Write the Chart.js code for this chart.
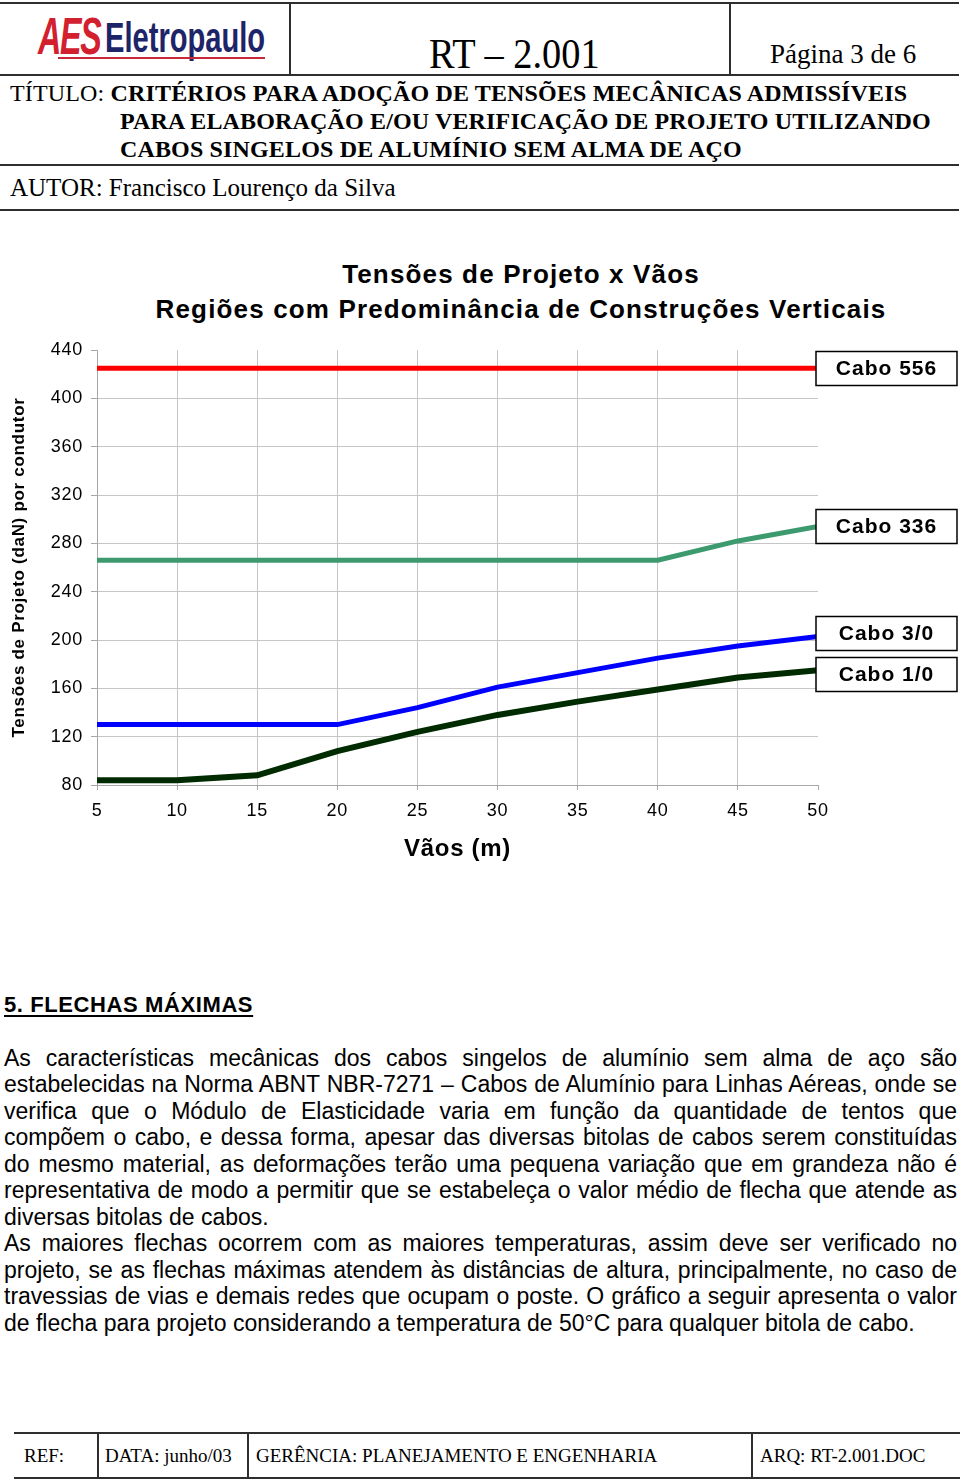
<!DOCTYPE html>
<html lang="pt-BR">
<head>
<meta charset="utf-8">
<title>RT – 2.001 – Tensões de Projeto x Vãos</title>
<script src="https://cdn.jsdelivr.net/npm/chart.js@4.4.1/dist/chart.umd.min.js"></script>
<style>
    html, body { margin: 0; padding: 0; background: #fff; }
    body { position: relative; width: 960px; height: 1481px; overflow: hidden; color: #000;
           font-family: "Liberation Serif", "Times New Roman", serif; }
    .linha { position: absolute; background: #2e2e2e; }
    .txt { position: absolute; white-space: nowrap; }
    .logoAes { left: 38px; top: 10px; font: italic bold 52px/52px "Liberation Sans", Arial, sans-serif;
               color: #d3202f; transform: scaleX(0.62); transform-origin: left top; letter-spacing: -2px; }
    .logoNome { left: 105px; top: 15.6px; font: bold 43px/43px "Liberation Sans", Arial, sans-serif;
                color: #1e2468; transform: scaleX(0.677); transform-origin: left top; }
    .logoSub { position: absolute; left: 58px; top: 57px; width: 207px; height: 2px; background: #c8283a; }
    .rt { left: 429px; top: 32.5px; font-size: 42px; line-height: 42px; transform: scaleX(0.913); transform-origin: left top; }
    .pagina { left: 770px; top: 41.4px; font-size: 27px; line-height: 27px; }
    .titulo { left: 10px; top: 78.9px; font-size: 24px; line-height: 28px; letter-spacing: 0.15px; }
    .titulo b { font-weight: bold; }
    .autor { left: 10px; top: 175.4px; font-size: 25px; line-height: 25px; }
    .tituloGrafico { left: 521px; top: 256.5px; transform: translateX(-50%); text-align: center;
                     font: bold 26px/35px "Liberation Sans", Arial, sans-serif; letter-spacing: 1.15px; }
    #caixaGrafico { position: absolute; left: 0; top: 330px; width: 960px; height: 540px; }
    .secao { left: 4px; top: 993.7px; font: bold 22px/22px "Liberation Sans", Arial, sans-serif; letter-spacing: 0.6px;
             text-decoration: underline; text-decoration-thickness: 2px; text-underline-offset: 3px; }
    #texto { position: absolute; left: 4px; top: 1044.8px; width: 953px;
             font: 23px/26.5px "Liberation Sans", Arial, sans-serif; }
    #texto div { white-space: nowrap; }
    #texto .just { text-align: justify; text-align-last: justify; }
    .rodape { top: 1446.4px; font-size: 19px; line-height: 19px; }
</style>
</head>
<body>

<!-- cabeçalho -->
<div class="linha" style="left:0;top:2px;width:959px;height:2px"></div>
<div class="linha" style="left:0;top:74px;width:959px;height:2px"></div>
<div class="linha" style="left:289px;top:3px;width:2px;height:72px"></div>
<div class="linha" style="left:729px;top:3px;width:2px;height:72px"></div>
<div class="linha" style="left:0;top:164px;width:959px;height:2px"></div>
<div class="linha" style="left:0;top:209px;width:959px;height:2px"></div>

<div class="txt logoAes">AES</div>
<div class="txt logoNome">Eletropaulo</div>
<div class="logoSub"></div>
<div class="txt rt">RT – 2.001</div>
<div class="txt pagina">Página 3 de 6</div>
<div class="txt titulo">TÍTULO: <b>CRITÉRIOS PARA ADOÇÃO DE TENSÕES MECÂNICAS ADMISSÍVEIS</b><br>
<b style="margin-left:110px">PARA ELABORAÇÃO E/OU VERIFICAÇÃO DE PROJETO UTILIZANDO</b><br>
<b style="margin-left:110px">CABOS SINGELOS DE ALUMÍNIO SEM ALMA DE AÇO</b></div>
<div class="txt autor">AUTOR: Francisco Lourenço da Silva</div>

<!-- gráfico -->
<div class="txt tituloGrafico">Tensões de Projeto x Vãos<br>Regiões com Predominância de Construções Verticais</div>
<div id="caixaGrafico"><canvas id="grafico" width="960" height="540"></canvas></div>

<!-- texto -->
<div class="txt secao">5. FLECHAS MÁXIMAS</div>
<div id="texto">
    <div class="just">As características mecânicas dos cabos singelos de alumínio sem alma de aço são</div>
    <div class="just">estabelecidas na Norma ABNT NBR-7271 – Cabos de Alumínio para Linhas Aéreas, onde se</div>
    <div class="just">verifica que o Módulo de Elasticidade varia em função da quantidade de tentos que</div>
    <div class="just">compõem o cabo, e dessa forma, apesar das diversas bitolas de cabos serem constituídas</div>
    <div class="just">do mesmo material, as deformações terão uma pequena variação que em grandeza não é</div>
    <div class="just">representativa de modo a permitir que se estabeleça o valor médio de flecha que atende as</div>
    <div>diversas bitolas de cabos.</div>
    <div class="just">As maiores flechas ocorrem com as maiores temperaturas, assim deve ser verificado no</div>
    <div class="just">projeto, se as flechas máximas atendem às distâncias de altura, principalmente, no caso de</div>
    <div class="just">travessias de vias e demais redes que ocupam o poste. O gráfico a seguir apresenta o valor</div>
    <div>de flecha para projeto considerando a temperatura de 50°C para qualquer bitola de cabo.</div>
</div>

<!-- rodapé -->
<div class="linha" style="left:14px;top:1432px;width:946px;height:2px"></div>
<div class="linha" style="left:14px;top:1477px;width:946px;height:2px"></div>
<div class="linha" style="left:97px;top:1433px;width:2px;height:45px"></div>
<div class="linha" style="left:247px;top:1433px;width:2px;height:45px"></div>
<div class="linha" style="left:751px;top:1433px;width:2px;height:45px"></div>
<div class="txt rodape" style="left:24px">REF:</div>
<div class="txt rodape" style="left:105px">DATA: junho/03</div>
<div class="txt rodape" style="left:256px">GERÊNCIA: PLANEJAMENTO E ENGENHARIA</div>
<div class="txt rodape" style="left:760px">ARQ: RT-2.001.DOC</div>

<script>
// vãos (m) e tensões de projeto (daN)
const vaos = [5, 10, 15, 20, 25, 30, 35, 40, 45, 50];
const cabo556 = [425, 425, 425, 425, 425, 425, 425, 425, 425, 425];
const cabo336 = [266, 266, 266, 266, 266, 266, 266, 266, 282, 294];
const cabo3_0 = [130, 130, 130, 130, 144, 161, 173, 185, 195, 203];
const cabo1_0 = [84, 84, 88, 108, 124, 138, 149, 159, 169, 175];
const nomesCabos = ['Cabo 556', 'Cabo 336', 'Cabo 3/0', 'Cabo 1/0'];
const ticksY = [80, 120, 160, 200, 240, 280, 320, 360, 400, 440];

const corGrade = '#c6c6c6';

function pontos(valores) {
    return vaos.map((v, i) => ({ x: v, y: valores[i] }));
}

// espaçamento de letras parecido com o do Excel
const espacamento = {
    id: 'espacamento',
    beforeDraw(chart) { chart.ctx.letterSpacing = '0.7px'; },
    afterDraw(chart) { chart.ctx.letterSpacing = '0px'; }
};

// caixas com o nome de cada cabo no fim da linha
const rotulosCabos = {
    id: 'rotulosCabos',
    afterDatasetsDraw(chart) {
        const ctx = chart.ctx;
        const alt = 34, larg = 141, folga = 7;
        const x0 = chart.chartArea.right - 2;

        let caixas = chart.data.datasets.map(function (ds, i) {
            const meta = chart.getDatasetMeta(i);
            const ultimo = meta.data[meta.data.length - 1];
            return { texto: ds.label, cy: ultimo.y };
        });
        caixas.sort((a, b) => a.cy - b.cy);
        for (let i = 1; i < caixas.length; i++) {
            const falta = alt + folga - (caixas[i].cy - caixas[i - 1].cy);
            if (falta > 0) {
                caixas[i - 1].cy -= falta / 2;
                caixas[i].cy += falta / 2;
            }
        }

        ctx.save();
        ctx.letterSpacing = '1px';
        ctx.font = 'bold 21px "Liberation Sans", Arial, sans-serif';
        ctx.textAlign = 'center';
        ctx.textBaseline = 'middle';
        caixas.forEach(function (c) {
            const y0 = Math.round(c.cy - alt / 2) + 0.5;
            ctx.fillStyle = '#fff';
            ctx.fillRect(x0, y0, larg, alt);
            ctx.lineWidth = 1.5;
            ctx.strokeStyle = '#000';
            ctx.strokeRect(x0, y0, larg, alt);
            ctx.fillStyle = '#000';
            ctx.fillText(c.texto, x0 + larg / 2, y0 + alt / 2 + 1);
        });
        ctx.restore();
    }
};

let grafico = new Chart(document.getElementById('grafico'), {
    type: 'line',
    data: {
        datasets: [{
            label: nomesCabos[0],
            data: pontos(cabo556),
            borderColor: '#ff0000',
            borderWidth: 5
        }, {
            label: nomesCabos[1],
            data: pontos(cabo336),
            borderColor: '#3c9a6e',
            borderWidth: 5
        }, {
            label: nomesCabos[2],
            data: pontos(cabo3_0),
            borderColor: '#0000ff',
            borderWidth: 5
        }, {
            label: nomesCabos[3],
            data: pontos(cabo1_0),
            borderColor: '#002b00',
            borderWidth: 6
        }]
    },
    options: {
        responsive: false,
        devicePixelRatio: 1,
        animation: false,
        elements: {
            point: { radius: 0, hoverRadius: 0 },
            line: { tension: 0, borderCapStyle: 'butt' }
        },
        layout: { padding: { top: 20, right: 142, left: 0, bottom: 5 } },
        plugins: {
            legend: { display: false },
            tooltip: { enabled: false },
            title: { display: false }
        },
        scales: {
            x: {
                type: 'linear',
                min: 5,
                max: 50,
                afterFit: function (escala) { escala.height = 80; },
                ticks: {
                    stepSize: 5,
                    color: '#000',
                    padding: 10,
                    maxRotation: 0,
                    font: { family: '"Liberation Sans", Arial, sans-serif', size: 18 }
                },
                grid: {
                    color: (c) => c.tick && c.tick.value === 50 ? 'rgba(0,0,0,0)' : corGrade,
                    tickColor: '#a8a8a8',
                    tickLength: 5,
                    lineWidth: 1
                },
                border: { color: '#a8a8a8', width: 1 },
                title: {
                    display: true,
                    text: 'Vãos (m)',
                    color: '#000',
                    padding: { top: 0, bottom: 1 },
                    font: { family: '"Liberation Sans", Arial, sans-serif', size: 24, weight: 'bold' }
                }
            },
            y: {
                min: 80,
                max: 440,
                afterFit: function (escala) { escala.width = 97; },
                ticks: {
                    stepSize: 20,
                    color: '#000',
                    padding: 8,
                    callback: (v) => ticksY.includes(v) ? v : '',
                    font: { family: '"Liberation Sans", Arial, sans-serif', size: 18 }
                },
                grid: {
                    color: (c) => c.tick && c.tick.value === 440 ? 'rgba(0,0,0,0)' : corGrade,
                    tickColor: (c) => c.tick && ticksY.includes(c.tick.value) ? '#a8a8a8' : 'rgba(0,0,0,0)',
                    tickLength: 6,
                    lineWidth: 1
                },
                border: { color: '#a8a8a8', width: 1 },
                title: {
                    display: true,
                    text: 'Tensões de Projeto (daN) por condutor',
                    color: '#000',
                    padding: { top: 9, bottom: 0 },
                    font: { family: '"Liberation Sans", Arial, sans-serif', size: 17, weight: 'bold' }
                }
            }
        }
    },
    plugins: [espacamento, rotulosCabos]
});
</script>
</body>
</html>
